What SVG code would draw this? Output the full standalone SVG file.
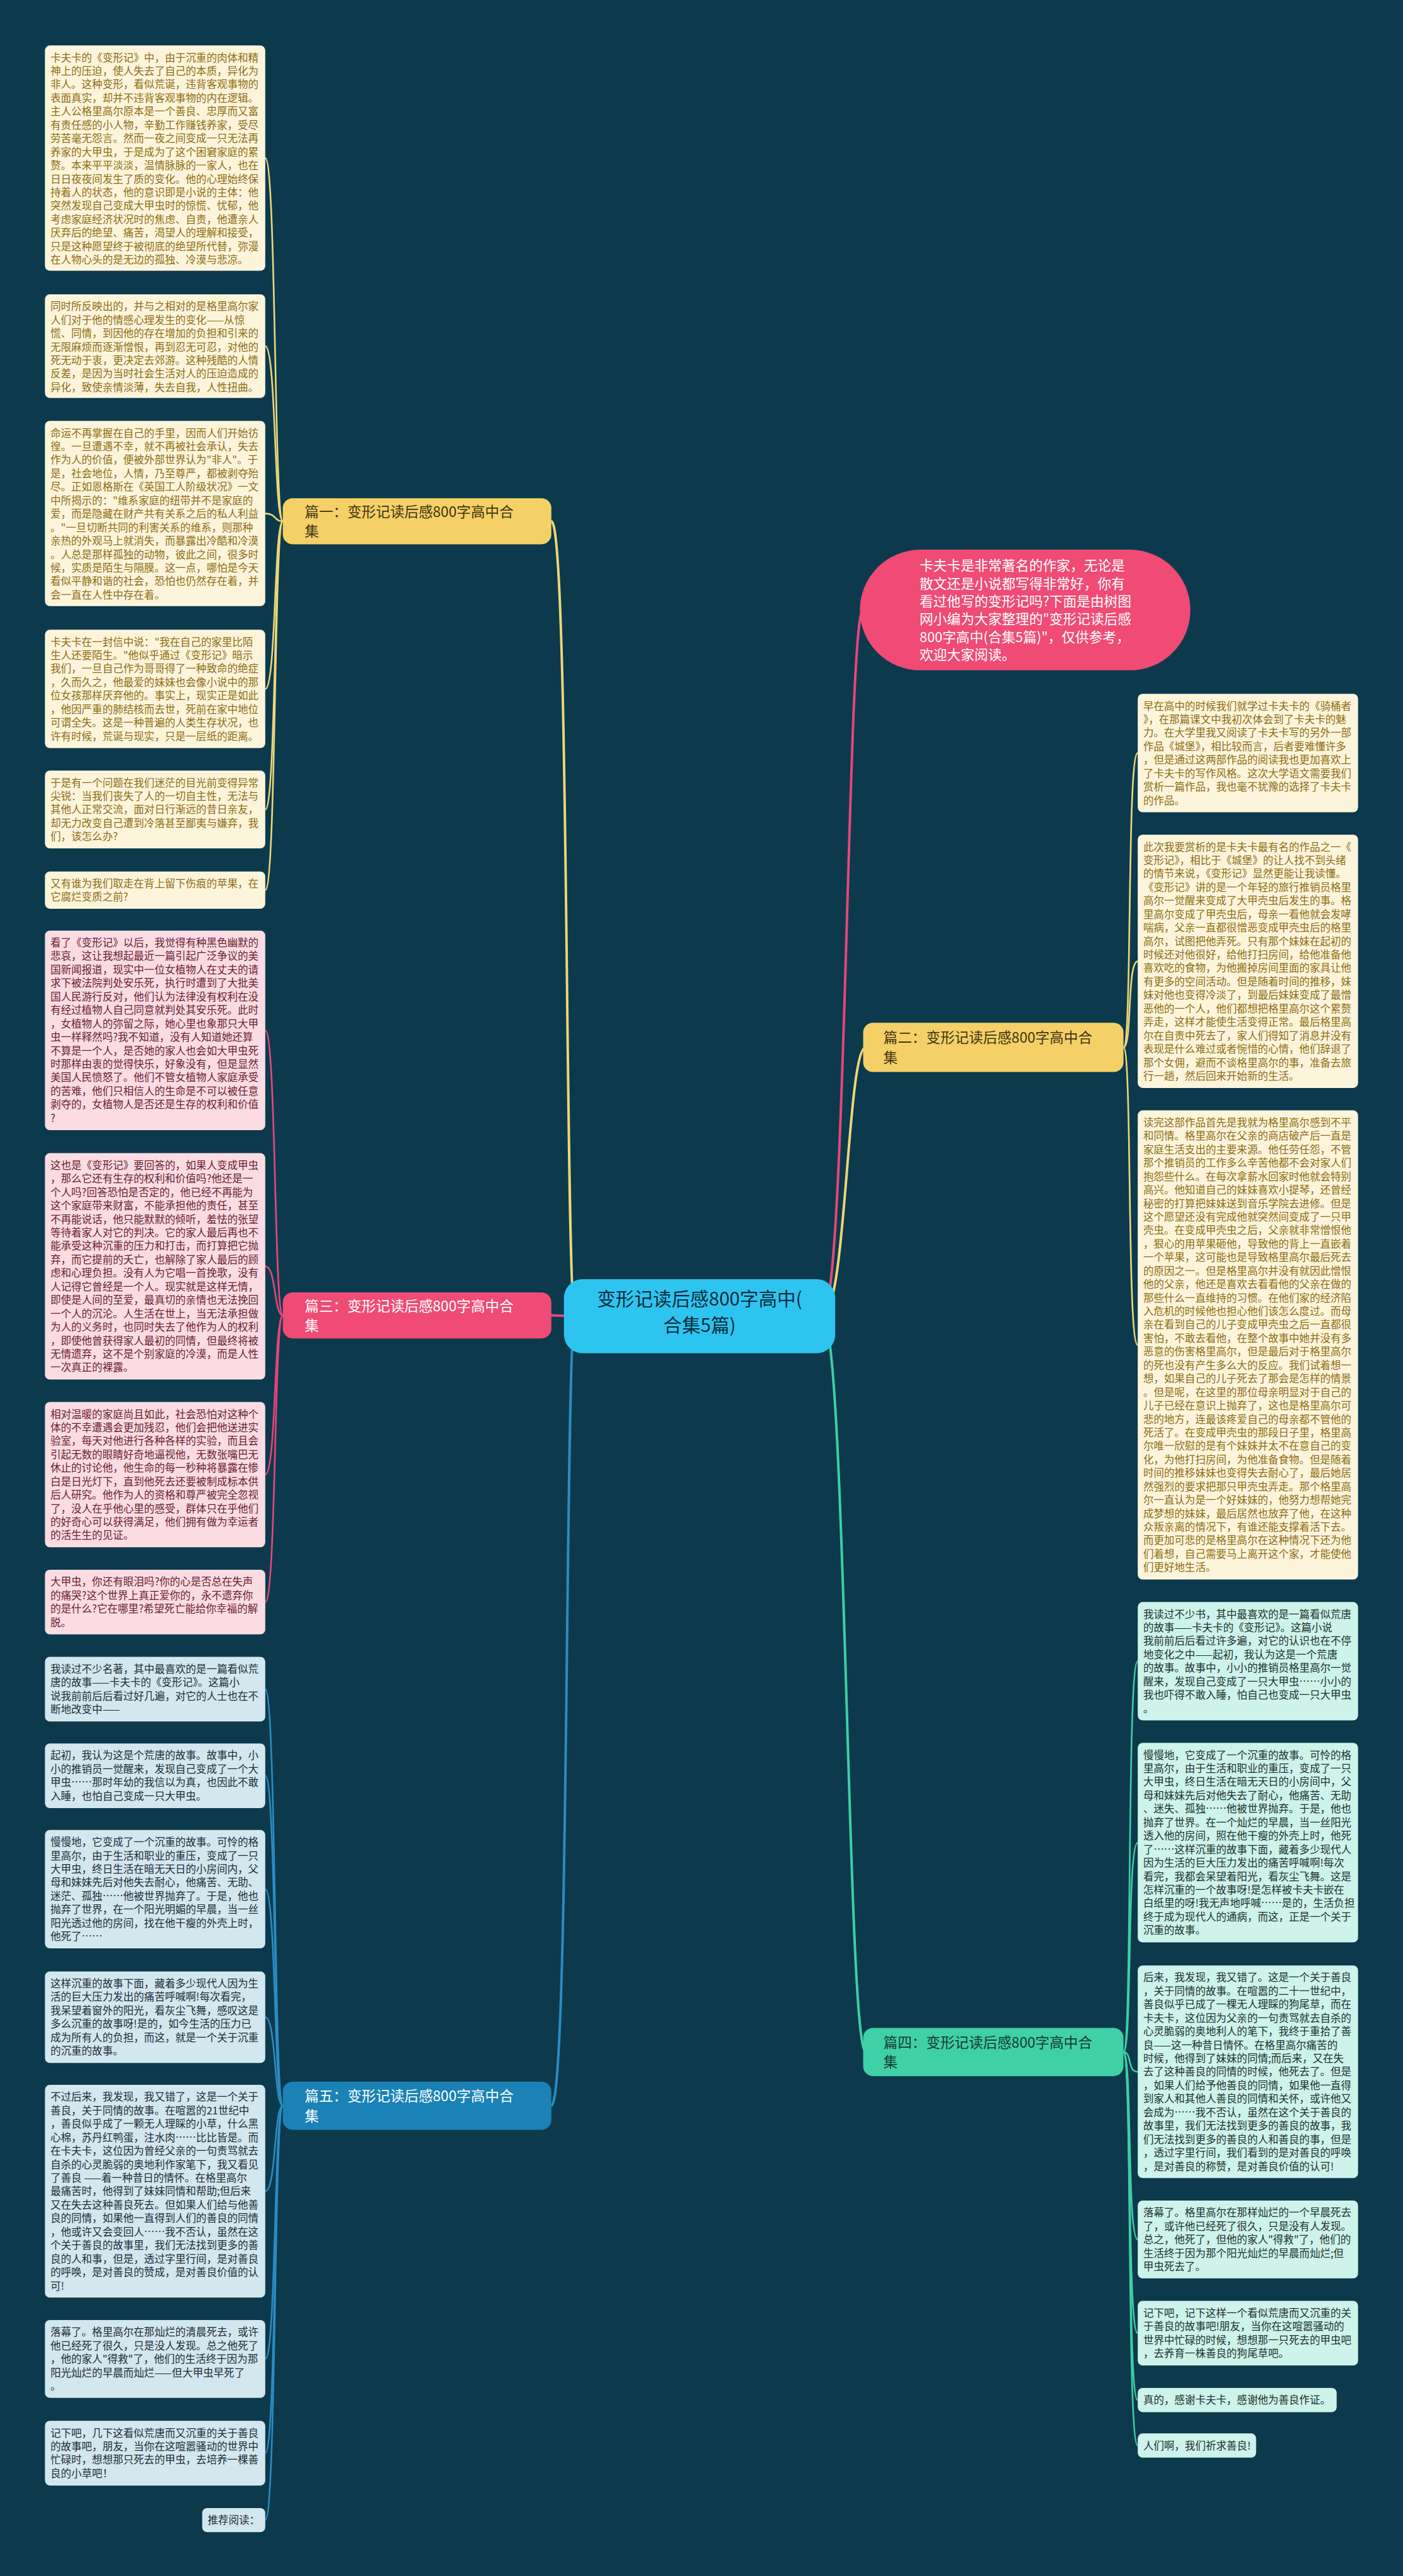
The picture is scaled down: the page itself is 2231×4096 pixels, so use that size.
<svg xmlns="http://www.w3.org/2000/svg" width="2231" height="4096" viewBox="0 0 2231 4096">
<style>
.bg{fill:#0c3a4c}
text{font-family:"Noto Sans CJK SC","Noto Sans",sans-serif;font-size:19px}
.ly{fill:#fcf5dc}.lp{fill:#fbdce3}.lb{fill:#d3e7ef}.lt{fill:#cdf3eb}
.ty{fill:#8e6c12}.tp{fill:#6a1c30}.tb{fill:#1c2c36}.tt{fill:#1d2f2d}
.cy{fill:none;stroke:#eed67a;stroke-width:3}
.cp{fill:none;stroke:#e8467a;stroke-width:3}
.cb{fill:none;stroke:#2b8cc4;stroke-width:3}
.ct{fill:none;stroke:#3fcfa5;stroke-width:3}
.thick{stroke-width:4.5}
.bn{font-size:26px}
</style>
<rect class="bg" x="0" y="0" width="2231" height="4096"/>
<g transform="scale(0.87148)">
<g id="connectors">
<path class="cy thick" d="M1050 2401 C1030 2401 1040 951 1006 951"/>
<path class="cp thick" d="M1050 2401 L1005 2400"/>
<path class="cb thick" d="M1050 2401 C1030 2401 1040 3842 1006 3842"/>
<path class="cp thick" d="M1500 2401 C1545 2401 1545 1113 1575 1113"/>
<path class="cy thick" d="M1500 2401 C1545 2401 1545 1911 1580 1911"/>
<path class="ct thick" d="M1500 2401 C1545 2401 1545 3744 1580 3744"/>
<path class="cy" d="M516 951 C500 951 504 288.5 484 288.5"/>
<path class="cy" d="M516 951 C500 951 504 631.5 484 631.5"/>
<path class="cy" d="M516 951 C500 951 504 937 484 937"/>
<path class="cy" d="M516 951 C500 951 504 1257 484 1257"/>
<path class="cy" d="M516 951 C500 951 504 1477 484 1477"/>
<path class="cy" d="M516 951 C500 951 504 1624 484 1624"/>
<path class="cp" d="M516 2400 C500 2400 504 1880 484 1880"/>
<path class="cp" d="M516 2400 C500 2400 504 2310.5 484 2310.5"/>
<path class="cp" d="M516 2400 C500 2400 504 2690.5 484 2690.5"/>
<path class="cp" d="M516 2400 C500 2400 504 2923 484 2923"/>
<path class="cb" d="M516 3842 C500 3842 504 3082 484 3082"/>
<path class="cb" d="M516 3842 C500 3842 504 3240 484 3240"/>
<path class="cb" d="M516 3842 C500 3842 504 3447 484 3447"/>
<path class="cb" d="M516 3842 C500 3842 504 3680.5 484 3680.5"/>
<path class="cb" d="M516 3842 C500 3842 504 3998 484 3998"/>
<path class="cb" d="M516 3842 C500 3842 504 4304 484 4304"/>
<path class="cb" d="M516 3842 C500 3842 504 4476 484 4476"/>
<path class="cb" d="M516 3842 C500 3842 504 4598 484 4598"/>
<path class="cy" d="M2050 1911 C2066 1911 2056 1374 2076 1374"/>
<path class="cy" d="M2050 1911 C2066 1911 2056 1754 2076 1754"/>
<path class="cy" d="M2050 1911 C2066 1911 2056 2454 2076 2454"/>
<path class="ct" d="M2050 3744 C2066 3744 2056 3031 2076 3031"/>
<path class="ct" d="M2050 3744 C2066 3744 2056 3362 2076 3362"/>
<path class="ct" d="M2050 3744 C2066 3744 2056 3780 2076 3780"/>
<path class="ct" d="M2050 3744 C2066 3744 2056 4086 2076 4086"/>
<path class="ct" d="M2050 3744 C2066 3744 2056 4257 2076 4257"/>
<path class="ct" d="M2050 3744 C2066 3744 2056 4379 2076 4379"/>
<path class="ct" d="M2050 3744 C2066 3744 2056 4462 2076 4462"/>
</g>

<g id="center">
<rect x="1029" y="2334" width="495" height="135" rx="34" fill="#2ec4f0"/>
<text x="1276.5" y="2382" text-anchor="middle" style="font-size:34px" fill="#0c2a3a"><tspan x="1276.5">变形记读后感800字高中(</tspan><tspan x="1276.5" dy="48">合集5篇)</tspan></text>
</g>

<g id="header">
<rect x="1569" y="1003" width="603" height="220" rx="110" fill="#ef4b74"/>
<text x="1678" y="1041" style="font-size:25px" fill="#ffffff"><tspan x="1678">卡夫卡是非常著名的作家，无论是</tspan><tspan x="1678" dy="32.6">散文还是小说都写得非常好，你有</tspan><tspan x="1678" dy="32.6">看过他写的变形记吗?下面是由树图</tspan><tspan x="1678" dy="32.6">网小编为大家整理的"变形记读后感</tspan><tspan x="1678" dy="32.6">800字高中(合集5篇)"，仅供参考，</tspan><tspan x="1678" dy="32.6">欢迎大家阅读。</tspan></text>
</g>

<g id="b1">
<rect x="516" y="909" width="490" height="84" rx="18" fill="#f5d067"/>
<text class="bn" x="556" y="943" fill="#3f3413"><tspan x="556">篇一：变形记读后感800字高中合</tspan><tspan x="556" dy="36">集</tspan></text>
</g>
<g id="b3">
<rect x="516" y="2358" width="490" height="84" rx="18" fill="#ef4b74"/>
<text class="bn" x="556" y="2392" fill="#ffffff"><tspan x="556">篇三：变形记读后感800字高中合</tspan><tspan x="556" dy="36">集</tspan></text>
</g>
<g id="b5">
<rect x="516" y="3798" width="490" height="88" rx="18" fill="#1a82b6"/>
<text class="bn" x="556" y="3834" fill="#ffffff"><tspan x="556">篇五：变形记读后感800字高中合</tspan><tspan x="556" dy="36">集</tspan></text>
</g>
<g id="b2">
<rect x="1575" y="1866" width="475" height="90" rx="18" fill="#f5d067"/>
<text class="bn" x="1612" y="1903" fill="#3f3413"><tspan x="1612">篇二：变形记读后感800字高中合</tspan><tspan x="1612" dy="36">集</tspan></text>
</g>
<g id="b4">
<rect x="1575" y="3700" width="475" height="88" rx="18" fill="#3fd0a6"/>
<text class="bn" x="1612" y="3736" fill="#163a33"><tspan x="1612">篇四：变形记读后感800字高中合</tspan><tspan x="1612" dy="36">集</tspan></text>
</g>

<g id="l1"><rect class="ly" x="82" y="83" width="402" height="411" rx="9"/>
<text class="ty" x="92" y="112"><tspan x="92">卡夫卡的《变形记》中，由于沉重的肉体和精</tspan><tspan x="92" dy="24.6">神上的压迫，使人失去了自己的本质，异化为</tspan><tspan x="92" dy="24.6">非人。这种变形，看似荒诞，违背客观事物的</tspan><tspan x="92" dy="24.6">表面真实，却并不违背客观事物的内在逻辑。</tspan><tspan x="92" dy="24.6">主人公格里高尔原本是一个善良、忠厚而又富</tspan><tspan x="92" dy="24.6">有责任感的小人物，辛勤工作赚钱养家，受尽</tspan><tspan x="92" dy="24.6">劳苦毫无怨言。然而一夜之间变成一只无法再</tspan><tspan x="92" dy="24.6">养家的大甲虫，于是成为了这个困窘家庭的累</tspan><tspan x="92" dy="24.6">赘。本来平平淡淡，温情脉脉的一家人，也在</tspan><tspan x="92" dy="24.6">日日夜夜间发生了质的变化。他的心理始终保</tspan><tspan x="92" dy="24.6">持着人的状态，他的意识即是小说的主体：他</tspan><tspan x="92" dy="24.6">突然发现自己变成大甲虫时的惊慌、忧郁，他</tspan><tspan x="92" dy="24.6">考虑家庭经济状况时的焦虑、自责，他遭亲人</tspan><tspan x="92" dy="24.6">厌弃后的绝望、痛苦，渴望人的理解和接受，</tspan><tspan x="92" dy="24.6">只是这种愿望终于被彻底的绝望所代替，弥漫</tspan><tspan x="92" dy="24.6">在人物心头的是无边的孤独、冷漠与悲凉。</tspan></text></g>

<g id="l2"><rect class="ly" x="82" y="537" width="402" height="189" rx="9"/>
<text class="ty" x="92" y="566"><tspan x="92">同时所反映出的，并与之相对的是格里高尔家</tspan><tspan x="92" dy="24.6">人们对于他的情感心理发生的变化——从惊</tspan><tspan x="92" dy="24.6">慌、同情，到因他的存在增加的负担和引来的</tspan><tspan x="92" dy="24.6">无限麻烦而逐渐憎恨，再到忍无可忍，对他的</tspan><tspan x="92" dy="24.6">死无动于衷，更决定去郊游。这种残酷的人情</tspan><tspan x="92" dy="24.6">反差，是因为当时社会生活对人的压迫造成的</tspan><tspan x="92" dy="24.6">异化，致使亲情淡薄，失去自我，人性扭曲。</tspan></text></g>

<g id="l3"><rect class="ly" x="82" y="768" width="402" height="338" rx="9"/>
<text class="ty" x="92" y="797"><tspan x="92">命运不再掌握在自己的手里，因而人们开始彷</tspan><tspan x="92" dy="24.6">徨。一旦遭遇不幸，就不再被社会承认，失去</tspan><tspan x="92" dy="24.6">作为人的价值，便被外部世界认为"非人"。于</tspan><tspan x="92" dy="24.6">是，社会地位，人情，乃至尊严，都被剥夺殆</tspan><tspan x="92" dy="24.6">尽。正如恩格斯在《英国工人阶级状况》一文</tspan><tspan x="92" dy="24.6">中所揭示的："维系家庭的纽带并不是家庭的</tspan><tspan x="92" dy="24.6">爱，而是隐藏在财产共有关系之后的私人利益</tspan><tspan x="92" dy="24.6">。"一旦切断共同的利害关系的维系，则那种</tspan><tspan x="92" dy="24.6">亲热的外观马上就消失，而暴露出冷酷和冷漠</tspan><tspan x="92" dy="24.6">。人总是那样孤独的动物，彼此之间，很多时</tspan><tspan x="92" dy="24.6">候，实质是陌生与隔膜。这一点，哪怕是今天</tspan><tspan x="92" dy="24.6">看似平静和谐的社会，恐怕也仍然存在着，并</tspan><tspan x="92" dy="24.6">会一直在人性中存在着。</tspan></text></g>

<g id="l4"><rect class="ly" x="82" y="1149" width="402" height="216" rx="9"/>
<text class="ty" x="92" y="1178"><tspan x="92">卡夫卡在一封信中说："我在自己的家里比陌</tspan><tspan x="92" dy="24.6">生人还要陌生。"他似乎通过《变形记》暗示</tspan><tspan x="92" dy="24.6">我们，一旦自己作为哥哥得了一种致命的绝症</tspan><tspan x="92" dy="24.6">，久而久之，他最爱的妹妹也会像小说中的那</tspan><tspan x="92" dy="24.6">位女孩那样厌弃他的。事实上，现实正是如此</tspan><tspan x="92" dy="24.6">，他因严重的肺结核而去世，死前在家中地位</tspan><tspan x="92" dy="24.6">可谓全失。这是一种普遍的人类生存状况，也</tspan><tspan x="92" dy="24.6">许有时候，荒诞与现实，只是一层纸的距离。</tspan></text></g>

<g id="l5"><rect class="ly" x="82" y="1406" width="402" height="142" rx="9"/>
<text class="ty" x="92" y="1435"><tspan x="92">于是有一个问题在我们迷茫的目光前变得异常</tspan><tspan x="92" dy="24.6">尖锐：当我们丧失了人的一切自主性，无法与</tspan><tspan x="92" dy="24.6">其他人正常交流，面对日行渐远的昔日亲友，</tspan><tspan x="92" dy="24.6">却无力改变自己遭到冷落甚至鄙夷与嫌弃，我</tspan><tspan x="92" dy="24.6">们，该怎么办?</tspan></text></g>

<g id="l6"><rect class="ly" x="82" y="1590" width="402" height="68" rx="9"/>
<text class="ty" x="92" y="1619"><tspan x="92">又有谁为我们取走在背上留下伤痕的苹果，在</tspan><tspan x="92" dy="24.6">它腐烂变质之前?</tspan></text></g>

<g id="l7"><rect class="lp" x="82" y="1698" width="402" height="364" rx="9"/>
<text class="tp" x="92" y="1727"><tspan x="92">看了《变形记》以后，我觉得有种黑色幽默的</tspan><tspan x="92" dy="24.6">悲哀，这让我想起最近一篇引起广泛争议的美</tspan><tspan x="92" dy="24.6">国新闻报道，现实中一位女植物人在丈夫的请</tspan><tspan x="92" dy="24.6">求下被法院判处安乐死，执行时遭到了大批美</tspan><tspan x="92" dy="24.6">国人民游行反对，他们认为法律没有权利在没</tspan><tspan x="92" dy="24.6">有经过植物人自己同意就判处其安乐死。此时</tspan><tspan x="92" dy="24.6">，女植物人的弥留之际，她心里也象那只大甲</tspan><tspan x="92" dy="24.6">虫一样释然吗?我不知道，没有人知道她还算</tspan><tspan x="92" dy="24.6">不算是一个人，是否她的家人也会如大甲虫死</tspan><tspan x="92" dy="24.6">时那样由衷的觉得快乐，好象没有，但是显然</tspan><tspan x="92" dy="24.6">美国人民愤怒了。他们不管女植物人家庭承受</tspan><tspan x="92" dy="24.6">的苦难，他们只相信人的生命是不可以被任意</tspan><tspan x="92" dy="24.6">剥夺的，女植物人是否还是生存的权利和价值</tspan><tspan x="92" dy="24.6">?</tspan></text></g>

<g id="l8"><rect class="lp" x="82" y="2104" width="402" height="413" rx="9"/>
<text class="tp" x="92" y="2133"><tspan x="92">这也是《变形记》要回答的，如果人变成甲虫</tspan><tspan x="92" dy="24.6">，那么它还有生存的权利和价值吗?他还是一</tspan><tspan x="92" dy="24.6">个人吗?回答恐怕是否定的，他已经不再能为</tspan><tspan x="92" dy="24.6">这个家庭带来财富，不能承担他的责任，甚至</tspan><tspan x="92" dy="24.6">不再能说话，他只能默默的倾听，羞怯的张望</tspan><tspan x="92" dy="24.6">等待着家人对它的判决。它的家人最后再也不</tspan><tspan x="92" dy="24.6">能承受这种沉重的压力和打击，而打算把它抛</tspan><tspan x="92" dy="24.6">弃，而它提前的夭亡，也解除了家人最后的顾</tspan><tspan x="92" dy="24.6">虑和心理负担。没有人为它唱一首挽歌，没有</tspan><tspan x="92" dy="24.6">人记得它曾经是一个人。现实就是这样无情，</tspan><tspan x="92" dy="24.6">即使是人间的至爱，最真切的亲情也无法挽回</tspan><tspan x="92" dy="24.6">一个人的沉沦。人生活在世上，当无法承担做</tspan><tspan x="92" dy="24.6">为人的义务时，也同时失去了他作为人的权利</tspan><tspan x="92" dy="24.6">，即使他曾获得家人最初的同情，但最终将被</tspan><tspan x="92" dy="24.6">无情遗弃，这不是个别家庭的冷漠，而是人性</tspan><tspan x="92" dy="24.6">一次真正的裸露。</tspan></text></g>

<g id="l9"><rect class="lp" x="82" y="2558" width="402" height="265" rx="9"/>
<text class="tp" x="92" y="2587"><tspan x="92">相对温暖的家庭尚且如此，社会恐怕对这种个</tspan><tspan x="92" dy="24.6">体的不幸遭遇会更加残忍，他们会把他送进实</tspan><tspan x="92" dy="24.6">验室，每天对他进行各种各样的实验，而且会</tspan><tspan x="92" dy="24.6">引起无数的眼睛好奇地逼视他，无数张嘴巴无</tspan><tspan x="92" dy="24.6">休止的讨论他，他生命的每一秒种将暴露在惨</tspan><tspan x="92" dy="24.6">白是日光灯下，直到他死去还要被制成标本供</tspan><tspan x="92" dy="24.6">后人研究。他作为人的资格和尊严被完全忽视</tspan><tspan x="92" dy="24.6">了，没人在乎他心里的感受，群体只在乎他们</tspan><tspan x="92" dy="24.6">的好奇心可以获得满足，他们拥有做为幸运者</tspan><tspan x="92" dy="24.6">的活生生的见证。</tspan></text></g>

<g id="l10"><rect class="lp" x="82" y="2864" width="402" height="118" rx="9"/>
<text class="tp" x="92" y="2893"><tspan x="92">大甲虫，你还有眼泪吗?你的心是否总在失声</tspan><tspan x="92" dy="24.6">的痛哭?这个世界上真正爱你的，永不遗弃你</tspan><tspan x="92" dy="24.6">的是什么?它在哪里?希望死亡能给你幸福的解</tspan><tspan x="92" dy="24.6">脱。</tspan></text></g>

<g id="l11"><rect class="lb" x="82" y="3023" width="402" height="118" rx="9"/>
<text class="tb" x="92" y="3052"><tspan x="92">我读过不少名著，其中最喜欢的是一篇看似荒</tspan><tspan x="92" dy="24.6">唐的故事——卡夫卡的《变形记》。这篇小</tspan><tspan x="92" dy="24.6">说我前前后后看过好几遍，对它的人士也在不</tspan><tspan x="92" dy="24.6">断地改变中——</tspan></text></g>

<g id="l12"><rect class="lb" x="82" y="3181" width="402" height="118" rx="9"/>
<text class="tb" x="92" y="3210"><tspan x="92">起初，我认为这是个荒唐的故事。故事中，小</tspan><tspan x="92" dy="24.6">小的推销员一觉醒来，发现自己变成了一个大</tspan><tspan x="92" dy="24.6">甲虫……那时年幼的我信以为真，也因此不敢</tspan><tspan x="92" dy="24.6">入睡，也怕自己变成一只大甲虫。</tspan></text></g>

<g id="l13"><rect class="lb" x="82" y="3339" width="402" height="216" rx="9"/>
<text class="tb" x="92" y="3368"><tspan x="92">慢慢地，它变成了一个沉重的故事。可怜的格</tspan><tspan x="92" dy="24.6">里高尔，由于生活和职业的重压，变成了一只</tspan><tspan x="92" dy="24.6">大甲虫，终日生活在暗无天日的小房间内，父</tspan><tspan x="92" dy="24.6">母和妹妹先后对他失去耐心，他痛苦、无助、</tspan><tspan x="92" dy="24.6">迷茫、孤独……他被世界抛弃了。于是，他也</tspan><tspan x="92" dy="24.6">抛弃了世界，在一个阳光明媚的早晨，当一丝</tspan><tspan x="92" dy="24.6">阳光透过他的房间，找在他干瘦的外壳上时，</tspan><tspan x="92" dy="24.6">他死了……</tspan></text></g>

<g id="l14"><rect class="lb" x="82" y="3597" width="402" height="167" rx="9"/>
<text class="tb" x="92" y="3626"><tspan x="92">这样沉重的故事下面，藏着多少现代人因为生</tspan><tspan x="92" dy="24.6">活的巨大压力发出的痛苦呼喊啊!每次看完，</tspan><tspan x="92" dy="24.6">我呆望着窗外的阳光，看灰尘飞舞，感叹这是</tspan><tspan x="92" dy="24.6">多么沉重的故事呀!是的，如今生活的压力已</tspan><tspan x="92" dy="24.6">成为所有人的负担，而这，就是一个关于沉重</tspan><tspan x="92" dy="24.6">的沉重的故事。</tspan></text></g>

<g id="l15"><rect class="lb" x="82" y="3804" width="402" height="388" rx="9"/>
<text class="tb" x="92" y="3833"><tspan x="92">不过后来，我发现，我又错了，这是一个关于</tspan><tspan x="92" dy="24.6">善良，关于同情的故事。在喧嚣的21世纪中</tspan><tspan x="92" dy="24.6">，善良似乎成了一颗无人理睬的小草，什么黑</tspan><tspan x="92" dy="24.6">心棉，苏丹红鸭蛋，注水肉……比比皆是。而</tspan><tspan x="92" dy="24.6">在卡夫卡，这位因为曾经父亲的一句责骂就去</tspan><tspan x="92" dy="24.6">自杀的心灵脆弱的奥地利作家笔下，我又看见</tspan><tspan x="92" dy="24.6">了善良 ——着一种昔日的情怀。在格里高尔</tspan><tspan x="92" dy="24.6">最痛苦时，他得到了妹妹同情和帮助;但后来</tspan><tspan x="92" dy="24.6">又在失去这种善良死去。但如果人们给与他善</tspan><tspan x="92" dy="24.6">良的同情，如果他一直得到人们的善良的同情</tspan><tspan x="92" dy="24.6">，他或许又会变回人……我不否认，虽然在这</tspan><tspan x="92" dy="24.6">个关于善良的故事里，我们无法找到更多的善</tspan><tspan x="92" dy="24.6">良的人和事，但是，透过字里行间，是对善良</tspan><tspan x="92" dy="24.6">的呼唤，是对善良的赞成，是对善良价值的认</tspan><tspan x="92" dy="24.6">可!</tspan></text></g>

<g id="l16"><rect class="lb" x="82" y="4233" width="402" height="142" rx="9"/>
<text class="tb" x="92" y="4262"><tspan x="92">落幕了。格里高尔在那灿烂的清晨死去，或许</tspan><tspan x="92" dy="24.6">他已经死了很久，只是没人发现。总之他死了</tspan><tspan x="92" dy="24.6">，他的家人"得救"了，他们的生活终于因为那</tspan><tspan x="92" dy="24.6">阳光灿烂的早晨而灿烂——但大甲虫早死了</tspan><tspan x="92" dy="24.6">。</tspan></text></g>

<g id="l17"><rect class="lb" x="82" y="4417" width="402" height="118" rx="9"/>
<text class="tb" x="92" y="4446"><tspan x="92">记下吧，几下这看似荒唐而又沉重的关于善良</tspan><tspan x="92" dy="24.6">的故事吧，朋友，当你在这喧嚣骚动的世界中</tspan><tspan x="92" dy="24.6">忙碌时，想想那只死去的甲虫，去培养一棵善</tspan><tspan x="92" dy="24.6">良的小草吧！</tspan></text></g>

<g id="l18"><rect class="lb" x="369" y="4576" width="115" height="44" rx="9"/>
<text class="tb" x="379" y="4605">推荐阅读：</text></g>

<g id="r1"><rect class="ly" x="2076" y="1266" width="402" height="216" rx="9"/>
<text class="ty" x="2086" y="1295"><tspan x="2086">早在高中的时候我们就学过卡夫卡的《骑桶者</tspan><tspan x="2086" dy="24.6">》，在那篇课文中我初次体会到了卡夫卡的魅</tspan><tspan x="2086" dy="24.6">力。在大学里我又阅读了卡夫卡写的另外一部</tspan><tspan x="2086" dy="24.6">作品《城堡》，相比较而言，后者要难懂许多</tspan><tspan x="2086" dy="24.6">，但是通过这两部作品的阅读我也更加喜欢上</tspan><tspan x="2086" dy="24.6">了卡夫卡的写作风格。这次大学语文需要我们</tspan><tspan x="2086" dy="24.6">赏析一篇作品，我也毫不犹豫的选择了卡夫卡</tspan><tspan x="2086" dy="24.6">的作品。</tspan></text></g>

<g id="r2"><rect class="ly" x="2076" y="1523" width="402" height="462" rx="9"/>
<text class="ty" x="2086" y="1552"><tspan x="2086">此次我要赏析的是卡夫卡最有名的作品之一《</tspan><tspan x="2086" dy="24.6">变形记》，相比于《城堡》的让人找不到头绪</tspan><tspan x="2086" dy="24.6">的情节来说，《变形记》显然更能让我读懂。</tspan><tspan x="2086" dy="24.6">《变形记》讲的是一个年轻的旅行推销员格里</tspan><tspan x="2086" dy="24.6">高尔一觉醒来变成了大甲壳虫后发生的事。格</tspan><tspan x="2086" dy="24.6">里高尔变成了甲壳虫后，母亲一看他就会发哮</tspan><tspan x="2086" dy="24.6">喘病，父亲一直都很憎恶变成甲壳虫后的格里</tspan><tspan x="2086" dy="24.6">高尔，试图把他弄死。只有那个妹妹在起初的</tspan><tspan x="2086" dy="24.6">时候还对他很好，给他打扫房间，给他准备他</tspan><tspan x="2086" dy="24.6">喜欢吃的食物，为他搬掉房间里面的家具让他</tspan><tspan x="2086" dy="24.6">有更多的空间活动。但是随着时间的推移，妹</tspan><tspan x="2086" dy="24.6">妹对他也变得冷淡了，到最后妹妹变成了最憎</tspan><tspan x="2086" dy="24.6">恶他的一个人，他们都想把格里高尔这个累赘</tspan><tspan x="2086" dy="24.6">弄走，这样才能使生活变得正常。最后格里高</tspan><tspan x="2086" dy="24.6">尔在自责中死去了，家人们得知了消息并没有</tspan><tspan x="2086" dy="24.6">表现是什么难过或者惋惜的心情，他们辞退了</tspan><tspan x="2086" dy="24.6">那个女佣，避而不谈格里高尔的事，准备去旅</tspan><tspan x="2086" dy="24.6">行一趟，然后回来开始新的生活。</tspan></text></g>

<g id="r3"><rect class="ly" x="2076" y="2026" width="402" height="856" rx="9"/>
<text class="ty" x="2086" y="2055"><tspan x="2086">读完这部作品首先是我就为格里高尔感到不平</tspan><tspan x="2086" dy="24.6">和同情。格里高尔在父亲的商店破产后一直是</tspan><tspan x="2086" dy="24.6">家庭生活支出的主要来源。他任劳任怨，不管</tspan><tspan x="2086" dy="24.6">那个推销员的工作多么辛苦他都不会对家人们</tspan><tspan x="2086" dy="24.6">抱怨些什么。在每次拿薪水回家时他就会特别</tspan><tspan x="2086" dy="24.6">高兴。他知道自己的妹妹喜欢小提琴，还曾经</tspan><tspan x="2086" dy="24.6">秘密的打算把妹妹送到音乐学院去进修。但是</tspan><tspan x="2086" dy="24.6">这个愿望还没有完成他就突然间变成了一只甲</tspan><tspan x="2086" dy="24.6">壳虫。在变成甲壳虫之后，父亲就非常憎恨他</tspan><tspan x="2086" dy="24.6">，狠心的用苹果砸他，导致他的背上一直嵌着</tspan><tspan x="2086" dy="24.6">一个苹果，这可能也是导致格里高尔最后死去</tspan><tspan x="2086" dy="24.6">的原因之一。但是格里高尔并没有就因此憎恨</tspan><tspan x="2086" dy="24.6">他的父亲，他还是喜欢去看看他的父亲在做的</tspan><tspan x="2086" dy="24.6">那些什么一直维持的习惯。在他们家的经济陷</tspan><tspan x="2086" dy="24.6">入危机的时候他也担心他们该怎么度过。而母</tspan><tspan x="2086" dy="24.6">亲在看到自己的儿子变成甲壳虫之后一直都很</tspan><tspan x="2086" dy="24.6">害怕，不敢去看他，在整个故事中她并没有多</tspan><tspan x="2086" dy="24.6">恶意的伤害格里高尔，但是最后对于格里高尔</tspan><tspan x="2086" dy="24.6">的死也没有产生多么大的反应。我们试着想一</tspan><tspan x="2086" dy="24.6">想，如果自己的儿子死去了那会是怎样的情景</tspan><tspan x="2086" dy="24.6">。但是呢，在这里的那位母亲明显对于自己的</tspan><tspan x="2086" dy="24.6">儿子已经在意识上抛弃了，这也是格里高尔可</tspan><tspan x="2086" dy="24.6">悲的地方，连最该疼爱自己的母亲都不管他的</tspan><tspan x="2086" dy="24.6">死活了。在变成甲壳虫的那段日子里，格里高</tspan><tspan x="2086" dy="24.6">尔唯一欣慰的是有个妹妹并太不在意自己的变</tspan><tspan x="2086" dy="24.6">化，为他打扫房间，为他准备食物。但是随着</tspan><tspan x="2086" dy="24.6">时间的推移妹妹也变得失去耐心了，最后她居</tspan><tspan x="2086" dy="24.6">然强烈的要求把那只甲壳虫弄走。那个格里高</tspan><tspan x="2086" dy="24.6">尔一直认为是一个好妹妹的，他努力想帮她完</tspan><tspan x="2086" dy="24.6">成梦想的妹妹，最后居然也放弃了他，在这种</tspan><tspan x="2086" dy="24.6">众叛亲离的情况下，有谁还能支撑着活下去。</tspan><tspan x="2086" dy="24.6">而更加可悲的是格里高尔在这种情况下还为他</tspan><tspan x="2086" dy="24.6">们着想，自己需要马上离开这个家，才能使他</tspan><tspan x="2086" dy="24.6">们更好地生活。</tspan></text></g>

<g id="r4"><rect class="lt" x="2076" y="2923" width="402" height="216" rx="9"/>
<text class="tt" x="2086" y="2952"><tspan x="2086">我读过不少书，其中最喜欢的是一篇看似荒唐</tspan><tspan x="2086" dy="24.6">的故事——卡夫卡的《变形记》。这篇小说</tspan><tspan x="2086" dy="24.6">我前前后后看过许多遍，对它的认识也在不停</tspan><tspan x="2086" dy="24.6">地变化之中——起初，我认为这是一个荒唐</tspan><tspan x="2086" dy="24.6">的故事。故事中，小小的推销员格里高尔一觉</tspan><tspan x="2086" dy="24.6">醒来，发现自己变成了一只大甲虫……小小的</tspan><tspan x="2086" dy="24.6">我也吓得不敢入睡，怕自己也变成一只大甲虫</tspan><tspan x="2086" dy="24.6">。</tspan></text></g>

<g id="r5"><rect class="lt" x="2076" y="3180" width="402" height="364" rx="9"/>
<text class="tt" x="2086" y="3209"><tspan x="2086">慢慢地，它变成了一个沉重的故事。可怜的格</tspan><tspan x="2086" dy="24.6">里高尔，由于生活和职业的重压，变成了一只</tspan><tspan x="2086" dy="24.6">大甲虫，终日生活在暗无天日的小房间中，父</tspan><tspan x="2086" dy="24.6">母和妹妹先后对他失去了耐心，他痛苦、无助</tspan><tspan x="2086" dy="24.6">、迷失、孤独……他被世界抛弃。于是，他也</tspan><tspan x="2086" dy="24.6">抛弃了世界。在一个灿烂的早晨，当一丝阳光</tspan><tspan x="2086" dy="24.6">透入他的房间，照在他干瘦的外壳上时，他死</tspan><tspan x="2086" dy="24.6">了……这样沉重的故事下面，藏着多少现代人</tspan><tspan x="2086" dy="24.6">因为生活的巨大压力发出的痛苦呼喊啊!每次</tspan><tspan x="2086" dy="24.6">看完，我都会呆望着阳光，看灰尘飞舞。这是</tspan><tspan x="2086" dy="24.6">怎样沉重的一个故事呀!是怎样被卡夫卡嵌在</tspan><tspan x="2086" dy="24.6">白纸里的呀!我无声地呼喊……是的，生活负担</tspan><tspan x="2086" dy="24.6">终于成为现代人的通病，而这，正是一个关于</tspan><tspan x="2086" dy="24.6">沉重的故事。</tspan></text></g>

<g id="r6"><rect class="lt" x="2076" y="3586" width="402" height="388" rx="9"/>
<text class="tt" x="2086" y="3615"><tspan x="2086">后来，我发现，我又错了。这是一个关于善良</tspan><tspan x="2086" dy="24.6">，关于同情的故事。在喧嚣的二十一世纪中，</tspan><tspan x="2086" dy="24.6">善良似乎已成了一棵无人理睬的狗尾草，而在</tspan><tspan x="2086" dy="24.6">卡夫卡，这位因为父亲的一句责骂就去自杀的</tspan><tspan x="2086" dy="24.6">心灵脆弱的奥地利人的笔下，我终于重拾了善</tspan><tspan x="2086" dy="24.6">良——这一种昔日情怀。在格里高尔痛苦的</tspan><tspan x="2086" dy="24.6">时候，他得到了妹妹的同情;而后来，又在失</tspan><tspan x="2086" dy="24.6">去了这种善良的同情的时候，他死去了。但是</tspan><tspan x="2086" dy="24.6">，如果人们给予他善良的同情，如果他一直得</tspan><tspan x="2086" dy="24.6">到家人和其他人善良的同情和关怀，或许他又</tspan><tspan x="2086" dy="24.6">会成为……我不否认，虽然在这个关于善良的</tspan><tspan x="2086" dy="24.6">故事里，我们无法找到更多的善良的故事，我</tspan><tspan x="2086" dy="24.6">们无法找到更多的善良的人和善良的事，但是</tspan><tspan x="2086" dy="24.6">，透过字里行间，我们看到的是对善良的呼唤</tspan><tspan x="2086" dy="24.6">，是对善良的称赞，是对善良价值的认可!</tspan></text></g>

<g id="r7"><rect class="lt" x="2076" y="4015" width="402" height="142" rx="9"/>
<text class="tt" x="2086" y="4044"><tspan x="2086">落幕了。格里高尔在那样灿烂的一个早晨死去</tspan><tspan x="2086" dy="24.6">了，或许他已经死了很久，只是没有人发现。</tspan><tspan x="2086" dy="24.6">总之，他死了，但他的家人"得救"了，他们的</tspan><tspan x="2086" dy="24.6">生活终于因为那个阳光灿烂的早晨而灿烂;但</tspan><tspan x="2086" dy="24.6">甲虫死去了。</tspan></text></g>

<g id="r8"><rect class="lt" x="2076" y="4198" width="402" height="118" rx="9"/>
<text class="tt" x="2086" y="4227"><tspan x="2086">记下吧，记下这样一个看似荒唐而又沉重的关</tspan><tspan x="2086" dy="24.6">于善良的故事吧!朋友，当你在这喧嚣骚动的</tspan><tspan x="2086" dy="24.6">世界中忙碌的时候，想想那一只死去的甲虫吧</tspan><tspan x="2086" dy="24.6">，去养育一株善良的狗尾草吧。</tspan></text></g>

<g id="r9"><rect class="lt" x="2076" y="4357" width="363" height="44" rx="9"/>
<text class="tt" x="2086" y="4386">真的，感谢卡夫卡，感谢他为善良作证。</text></g>

<g id="r10"><rect class="lt" x="2076" y="4440" width="216" height="44" rx="9"/>
<text class="tt" x="2086" y="4469">人们啊，我们祈求善良!</text></g>
</g>
</svg>
